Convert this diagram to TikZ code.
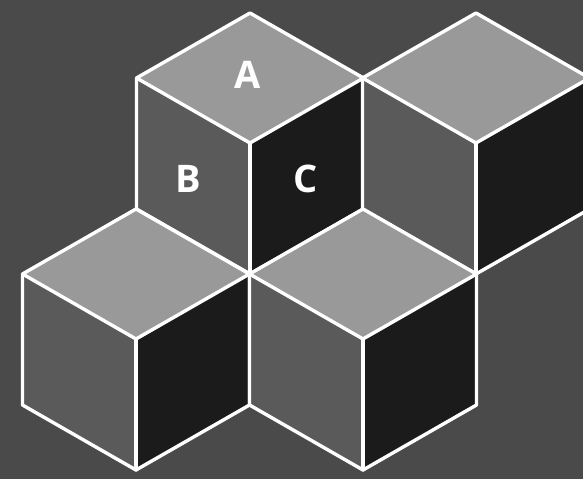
\documentclass[tikz,border=0pt]{standalone}
\usepackage{fontspec}
\setmainfont{Open Sans}
\definecolor{bgc}{HTML}{4A4A4A}
\definecolor{topc}{HTML}{999999}
\definecolor{leftc}{HTML}{5A5A5A}
\definecolor{rightc}{HTML}{1B1B1B}
\tikzset{
  edge/.style={draw=white, line width=3.4pt, line join=round, line cap=round},
  lbl/.style={text=white, font=\bfseries\fontsize{38}{42}\selectfont, inner sep=0pt},
  cube/.pic={
    \path[fill=topc] (0,0) -- (-113.5,-65) -- (0,-130) -- (113.5,-65) -- cycle;
    \path[fill=leftc] (-113.5,-65) -- (0,-130) -- (0,-261) -- (-113.5,-196) -- cycle;
    \path[fill=rightc] (113.5,-65) -- (0,-130) -- (0,-261) -- (113.5,-196) -- cycle;
    \path[edge] (0,0) -- (-113.5,-65) -- (-113.5,-196) -- (0,-261) -- (113.5,-196) -- (113.5,-65) -- cycle;
    \path[edge] (-113.5,-65) -- (0,-130) -- (113.5,-65);
    \path[edge] (0,-130) -- (0,-261);
  }
}
\begin{document}
\begin{tikzpicture}[x=1pt,y=1pt]
\fill[bgc] (0,0) rectangle (583,479);
\useasboundingbox (0,0) rectangle (583,479);
\pic at (250,466) {cube};
\pic at (476,466) {cube};
\pic at (136,270) {cube};
\pic at (363,270) {cube};
\node[lbl] (A) at (248,404) {A};
\node[lbl] (B) at (188,300) {B};
\node[lbl] (C) at (306,300) {C};
\end{tikzpicture}
\end{document}
